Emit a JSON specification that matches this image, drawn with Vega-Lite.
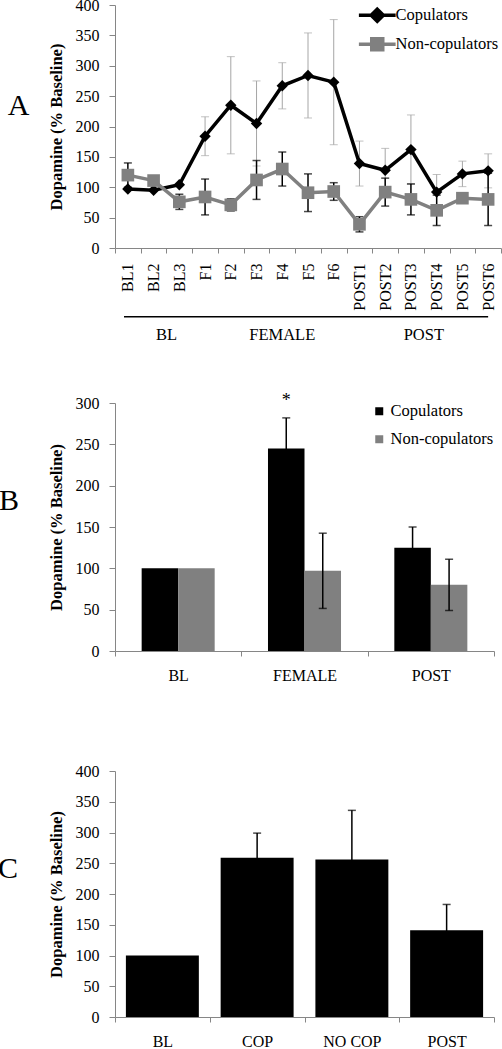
{
"$schema": "https://vega.github.io/schema/vega-lite/v6.json",
"padding": {"left": -3, "top": -3, "right": 0, "bottom": 0},
"config": {
  "font": "Liberation Serif",
  "view": {"stroke": null},
  "axis": {"labelFont": "Liberation Serif", "labelFontSize": 16, "labelColor": "#000", "domainColor": "#868686", "tickColor": "#868686", "grid": false, "titleFont": "Liberation Serif", "titleFontSize": 16.5, "titleFontWeight": "bold", "titleColor": "#000"},
  "axisY": {"tickSize": 6, "labelPadding": 10, "titlePadding": 11},
  "axisX": {"tickSize": 5},
  "legend": {"labelFont": "Liberation Serif", "labelFontSize": 16.5, "labelColor": "#000"},
  "title": {"font": "Liberation Serif", "fontSize": 30, "fontWeight": "normal", "color": "#000"}
},
"resolve": {"scale": {"color": "independent"}, "legend": {"color": "independent"}},
"spacing": 48,
"vconcat": [
  {
    "width": 386, "height": 243,
    "title": {"text": "A", "orient": "left", "angle": 0, "anchor": "middle", "align": "right", "baseline": "middle", "dy": -21, "offset": -3},
    "data": {"values": [
      {"t": "BL1", "g": "BL", "s": "Copulators", "v": 97, "e": 0},
      {"t": "BL2", "g": "BL", "s": "Copulators", "v": 95, "e": 0},
      {"t": "BL3", "g": "BL", "s": "Copulators", "v": 104, "e": 0},
      {"t": "F1", "g": "FEMALE", "s": "Copulators", "v": 184, "e": 32},
      {"t": "F2", "g": "FEMALE", "s": "Copulators", "v": 235, "e": 80},
      {"t": "F3", "g": "FEMALE", "s": "Copulators", "v": 205, "e": 70},
      {"t": "F4", "g": "FEMALE", "s": "Copulators", "v": 267, "e": 38},
      {"t": "F5", "g": "FEMALE", "s": "Copulators", "v": 284, "e": 70},
      {"t": "F6", "g": "FEMALE", "s": "Copulators", "v": 273, "e": 103},
      {"t": "POST1", "g": "POST", "s": "Copulators", "v": 139, "e": 37},
      {"t": "POST2", "g": "POST", "s": "Copulators", "v": 128, "e": 36},
      {"t": "POST3", "g": "POST", "s": "Copulators", "v": 162, "e": 57},
      {"t": "POST4", "g": "POST", "s": "Copulators", "v": 92, "e": 29},
      {"t": "POST5", "g": "POST", "s": "Copulators", "v": 122, "e": 21},
      {"t": "POST6", "g": "POST", "s": "Copulators", "v": 127, "e": 28},
      {"t": "BL1", "g": "BL", "s": "Non-copulators", "v": 120, "e": 20},
      {"t": "BL2", "g": "BL", "s": "Non-copulators", "v": 111, "e": 0},
      {"t": "BL3", "g": "BL", "s": "Non-copulators", "v": 76, "e": 12.5},
      {"t": "F1", "g": "FEMALE", "s": "Non-copulators", "v": 84, "e": 29.5},
      {"t": "F2", "g": "FEMALE", "s": "Non-copulators", "v": 71, "e": 10},
      {"t": "F3", "g": "FEMALE", "s": "Non-copulators", "v": 112, "e": 32},
      {"t": "F4", "g": "FEMALE", "s": "Non-copulators", "v": 130, "e": 28},
      {"t": "F5", "g": "FEMALE", "s": "Non-copulators", "v": 91, "e": 31},
      {"t": "F6", "g": "FEMALE", "s": "Non-copulators", "v": 93, "e": 14.5},
      {"t": "POST1", "g": "POST", "s": "Non-copulators", "v": 39, "e": 12.5},
      {"t": "POST2", "g": "POST", "s": "Non-copulators", "v": 92, "e": 23},
      {"t": "POST3", "g": "POST", "s": "Non-copulators", "v": 80, "e": 25.5},
      {"t": "POST4", "g": "POST", "s": "Non-copulators", "v": 62, "e": 25},
      {"t": "POST5", "g": "POST", "s": "Non-copulators", "v": 82, "e": 0},
      {"t": "POST6", "g": "POST", "s": "Non-copulators", "v": 80, "e": 43}
    ]},
    "encoding": {
      "x": {"field": "t", "type": "nominal", "scale": {"type": "band", "domain": ["BL1","BL2","BL3","F1","F2","F3","F4","F5","F6","POST1","POST2","POST3","POST4","POST5","POST6"], "paddingInner": 0, "paddingOuter": 0}, "axis": {"labelAngle": -90, "tickBand": "extent", "labelPadding": 10, "title": null}},
      "y": {"field": "v", "type": "quantitative", "scale": {"domain": [0, 400], "nice": false}, "axis": {"values": [0,50,100,150,200,250,300,350,400], "title": "Dopamine (% Baseline)"}}
    },
    "layer": [
      {"transform": [{"filter": "datum.s === 'Copulators' && datum.e > 0"}], "mark": {"type": "errorbar", "ticks": true, "size": 8, "thickness": 1, "color": "#a6a6a6"}, "encoding": {"yError": {"field": "e"}}},
      {"transform": [{"filter": "datum.s === 'Non-copulators' && datum.e > 0"}], "mark": {"type": "errorbar", "ticks": true, "size": 8, "thickness": 1.5, "color": "#000"}, "encoding": {"yError": {"field": "e"}}},
      {"mark": {"type": "line", "strokeWidth": 3.5}, "encoding": {"color": {"field": "s", "type": "nominal", "scale": {"domain": ["Copulators", "Non-copulators"], "range": ["#000", "#808080"]},
        "legend": {"title": null, "orient": "top-right", "offset": 2, "symbolType": "M-3,0H3M0,-1L1,0L0,1L-1,0Z", "symbolSize": 150, "symbolStrokeWidth": 3.5, "labelOffset": 10, "rowPadding": 2,
          "encode": {"symbols": {"update": {
            "shape": {"signal": "datum.value === 'Copulators' ? 'M-3,0H3M0,-1L1,0L0,1L-1,0Z' : 'M-3,0H3M-0.9,-0.9H0.9V0.9H-0.9Z'"},
            "fill": {"signal": "datum.value === 'Copulators' ? '#000' : '#808080'"},
            "stroke": {"signal": "datum.value === 'Copulators' ? '#000' : '#808080'"},
            "strokeWidth": {"value": 3.5}, "opacity": {"value": 1}}}}}}}},
      {"transform": [{"filter": "datum.s === 'Copulators'"}], "mark": {"type": "point", "shape": "diamond", "filled": true, "size": 130, "color": "#000", "opacity": 1}},
      {"transform": [{"filter": "datum.s === 'Non-copulators'"}], "mark": {"type": "point", "shape": "square", "filled": true, "size": 160, "color": "#808080", "opacity": 1}},
      {"transform": [{"filter": "datum.s === 'Copulators' && datum.t === 'BL1'"}], "mark": {"type": "rule", "strokeWidth": 1.5, "color": "#000", "clip": false}, "encoding": {"x": {"field": "t", "type": "nominal", "bandPosition": 0.35}, "x2": {"datum": "POST6"}, "y": {"datum": -113}}},
      {"transform": [{"filter": "datum.s === 'Copulators' && (datum.t === 'BL3' || datum.t === 'POST4')"}], "mark": {"type": "text", "fontSize": 16.5, "baseline": "middle", "clip": false}, "encoding": {"x": {"field": "t", "type": "nominal", "bandPosition": 0}, "y": {"datum": -144}, "text": {"field": "g"}}},
      {"transform": [{"filter": "datum.s === 'Copulators' && datum.t === 'F4'"}], "mark": {"type": "text", "fontSize": 16.5, "baseline": "middle", "clip": false}, "encoding": {"x": {"field": "t", "type": "nominal", "bandPosition": 0.5}, "y": {"datum": -144}, "text": {"field": "g"}}}
    ]
  },
  {
    "spacing": 80,
    "resolve": {"scale": {"color": "independent"}, "legend": {"color": "independent"}},
    "vconcat": [
      {
        "width": 379, "height": 248,
        "title": {"text": "B", "orient": "left", "angle": 0, "anchor": "middle", "align": "right", "baseline": "middle", "dy": -26, "offset": 9},
        "data": {"values": [
          {"c": "BL", "s": "Copulators", "v": 100, "e": 0},
          {"c": "BL", "s": "Non-copulators", "v": 100, "e": 0},
          {"c": "FEMALE", "s": "Copulators", "v": 245, "e": 37},
          {"c": "FEMALE", "s": "Non-copulators", "v": 97, "e": 45.5},
          {"c": "POST", "s": "Copulators", "v": 125, "e": 25},
          {"c": "POST", "s": "Non-copulators", "v": 80, "e": 31}
        ]},
        "encoding": {
          "x": {"field": "c", "type": "nominal", "sort": ["BL", "FEMALE", "POST"], "scale": {"type": "band", "paddingInner": 0, "paddingOuter": 0}, "axis": {"labelAngle": 0, "tickBand": "extent", "labelPadding": 11, "title": null}},
          "xOffset": {"field": "s", "type": "nominal", "sort": ["Copulators", "Non-copulators"], "scale": {"paddingInner": 0, "paddingOuter": 0.73}},
          "y": {"field": "v", "type": "quantitative", "scale": {"domain": [0, 300], "nice": false}, "axis": {"values": [0,50,100,150,200,250,300], "title": "Dopamine (% Baseline)"}}
        },
        "layer": [
          {"mark": {"type": "bar"}, "encoding": {"color": {"field": "s", "type": "nominal", "scale": {"domain": ["Copulators", "Non-copulators"], "range": ["#000", "#808080"]},
            "legend": {"title": null, "orient": "top-right", "offset": 0, "symbolType": "square", "symbolSize": 64, "symbolStrokeWidth": 0, "labelOffset": 3, "rowPadding": 11}}}},
          {"transform": [{"filter": "datum.e > 0"}], "mark": {"type": "errorbar", "ticks": true, "size": 8, "thickness": 1.5, "color": "#000"}, "encoding": {"yError": {"field": "e"}}},
          {"transform": [{"filter": "datum.c === 'FEMALE' && datum.s === 'Copulators'"}], "mark": {"type": "text", "text": "*", "fontSize": 18, "baseline": "middle", "clip": false}, "encoding": {"y": {"datum": 302}}}
        ]
      },
      {
        "width": 379, "height": 246,
        "title": {"text": "C", "orient": "left", "angle": 0, "anchor": "middle", "align": "right", "baseline": "middle", "dy": -25, "offset": 10},
        "data": {"values": [
          {"c": "BL", "v": 100, "e": 0},
          {"c": "COP", "v": 259, "e": 40},
          {"c": "NO COP", "v": 256, "e": 80},
          {"c": "POST", "v": 141, "e": 42}
        ]},
        "encoding": {
          "x": {"field": "c", "type": "nominal", "sort": ["BL", "COP", "NO COP", "POST"], "scale": {"type": "band", "paddingInner": 0, "paddingOuter": 0}, "axis": {"labelAngle": 0, "tickBand": "extent", "labelPadding": 11, "title": null}},
          "y": {"field": "v", "type": "quantitative", "scale": {"domain": [0, 400], "nice": false}, "axis": {"values": [0,50,100,150,200,250,300,350,400], "title": "Dopamine (% Baseline)"}}
        },
        "layer": [
          {"mark": {"type": "bar", "color": "#000", "width": {"band": 0.77}}},
          {"transform": [{"filter": "datum.e > 0"}], "mark": {"type": "errorbar", "ticks": true, "size": 8, "thickness": 1.5, "color": "#000"}, "encoding": {"yError": {"field": "e"}}}
        ]
      }
    ]
  }
]
}
